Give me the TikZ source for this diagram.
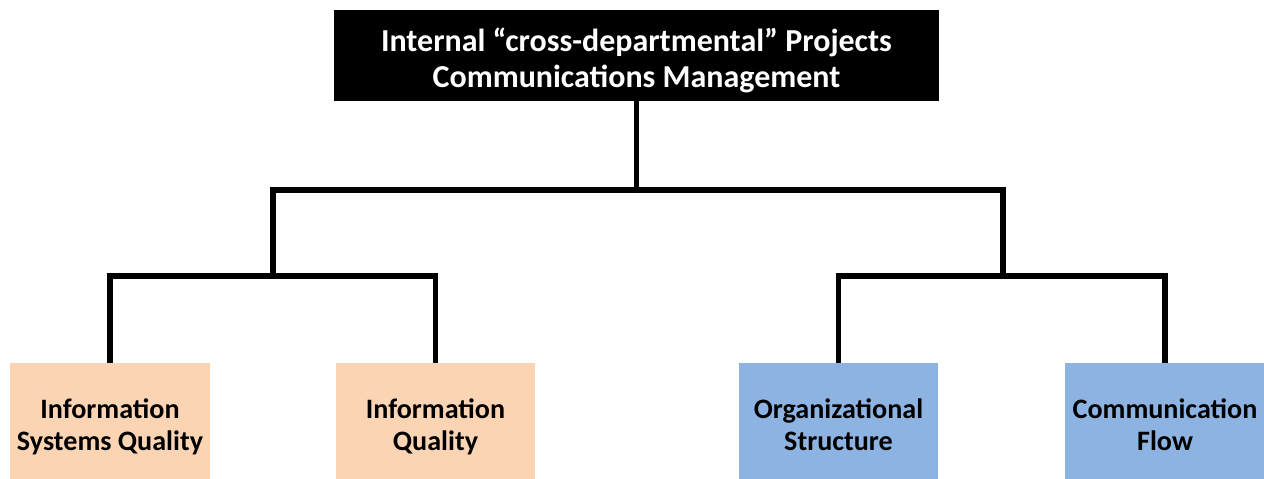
\documentclass[tikz,border=0pt]{standalone}
\usepackage{fontspec}
\setmainfont{Carlito}
\definecolor{peach}{RGB}{251,212,180}
\definecolor{skyblue}{RGB}{141,179,226}
\tikzset{
  leaf/.style={minimum width=4cm, minimum height=2.32cm, inner sep=0pt},
  leaftxt/.style={align=center, yshift=-3.2pt, font=\bfseries\fontsize{16}{18.2}\selectfont,
    execute at end node=\vphantom{y}},
  head/.style={fill=black, minimum width=12.1cm, minimum height=1.82cm, inner sep=0pt},
  headtxt/.style={align=center, text=white, yshift=-2.85pt, font=\bfseries\fontsize{18.2}{20.5}\selectfont},
}
\def\conn{\draw[line width=3.4pt]}

\begin{document}
\begin{tikzpicture}[x=0.02cm,y=-0.02cm]
\useasboundingbox (0,0) rectangle (1264,479);
\node[head,label={[headtxt]center:{Internal “cross-departmental” Projects\\Communications Management}}] (top) at (636.5,55.5) {};
\node[leaf,fill=peach,label={[leaftxt]center:{Information\\Systems Quality}}] (isq) at (110,421) {};
\node[leaf,fill=peach,label={[leaftxt]center:{Information\\Quality}}] (iq) at (435.5,421) {};
\node[leaf,fill=skyblue,label={[leaftxt]center:{Organizational\\Structure}}] (os) at (838.5,421) {};
\node[leaf,fill=skyblue,label={[leaftxt]center:{Communication\\Flow}}] (cf) at (1165,421) {};
\coordinate (bar) at (0,190);
\coordinate (lhub) at (273,276);
\coordinate (rhub) at (1003,276);
\conn (top.south) -- (top.south |- bar);
\conn (lhub) |- (rhub |- bar) -- (rhub);
\conn (isq.north) |- (lhub) -| (iq.north);
\conn (os.north) |- (rhub) -| (cf.north);
\end{tikzpicture}
\end{document}
